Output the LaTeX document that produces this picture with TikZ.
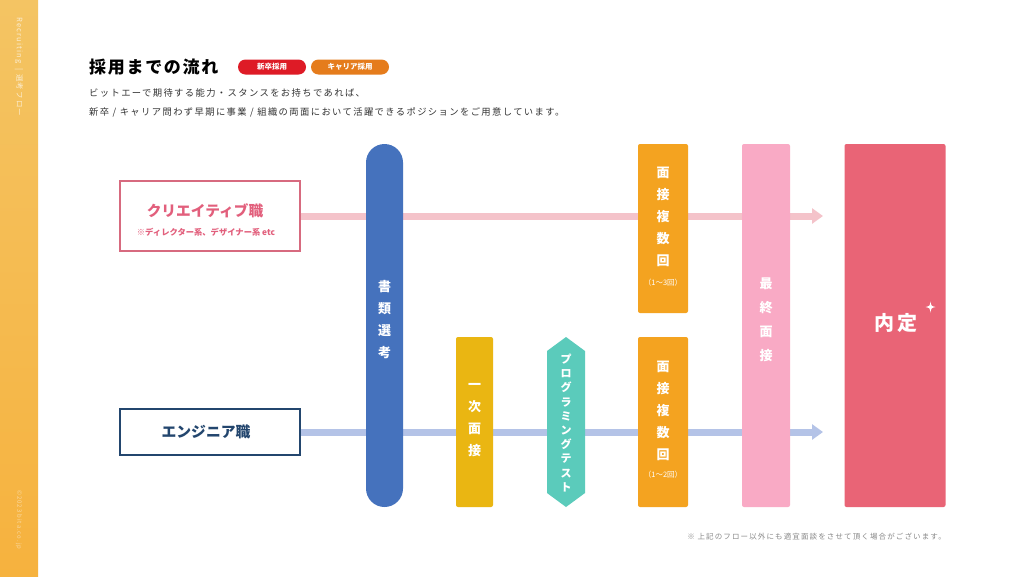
\documentclass[tikz,border=0pt]{standalone}
\usepackage{fontspec}
\setmainfont{Noto Sans CJK JP}
\newfontfamily\jp{Noto Sans CJK JP}
\newfontfamily\jpls{Noto Sans CJK JP}[LetterSpace=15]
\newfontfamily\jplt{Noto Sans CJK JP}[LetterSpace=10]
\newfontfamily\jpside{Noto Sans CJK JP}[LetterSpace=16]
\usetikzlibrary{arrows.meta,shapes.geometric}
\definecolor{sideTop}{HTML}{F4C463}
\definecolor{sideBot}{HTML}{F6B23E}
\definecolor{badgeRed}{HTML}{DE1B26}
\definecolor{badgeOrange}{HTML}{E57C1C}
\definecolor{bodyGray}{HTML}{333333}
\definecolor{creaBorder}{HTML}{D76A7F}
\definecolor{creaText}{HTML}{E25F7C}
\definecolor{engNavy}{HTML}{23466E}
\definecolor{pinkLine}{HTML}{F4C3CA}
\definecolor{blueLine}{HTML}{B4C3E7}
\definecolor{screenBlue}{HTML}{4572BD}
\definecolor{firstYellow}{HTML}{EAB612}
\definecolor{testTeal}{HTML}{5BCBBB}
\definecolor{ivOrange}{HTML}{F4A320}
\definecolor{finalPink}{HTML}{F9AAC5}
\definecolor{offerRed}{HTML}{E96476}
\definecolor{noteGray}{HTML}{8A8A8A}
\tikzset{
  bar/.style={inner sep=0pt, rounded corners=2pt},
  vtext/.style={text=white, align=center, inner sep=0pt, font=\jp\bfseries\fontsize{13}{22}\selectfont},
  badge/.style={rounded corners=7.5pt, inner sep=0pt, minimum height=15pt, text=white, font=\jp\bfseries\fontsize{7.5}{8}\selectfont},
  rolebox/.style={draw, line width=1.4pt, fill=white, inner sep=0pt, minimum width=180pt},
  flow/.style={line width=7pt, -{Triangle[width=15pt,length=11pt]}}
}
\begin{document}
\begin{tikzpicture}[x=1pt,y=-1pt]
\useasboundingbox (0,0) rectangle (1024,576);
\fill[white] (0,0) rectangle (1024,576);
% sidebar
\shade[top color=sideTop, bottom color=sideBot] (0,0) rectangle (38,576);
\node[rotate=-90, anchor=west, inner sep=0pt, text=white, opacity=0.7, font=\jpside\fontsize{7.5}{8}\selectfont] (sidetop) at (19,17) {Recruiting \,|\, 選考フロー};
% NOTE: the bottom sidebar text is illegible in the reference; this string is a placeholder guess
\node[rotate=-90, anchor=west, inner sep=0pt, text=white, opacity=0.5, font=\jpside\fontsize{6}{7}\selectfont] (sidebot) at (19,490) {©2023 bita.co.jp};
% header
\node[anchor=west, inner sep=0pt, font=\jplt\bfseries\fontsize{17}{19}\selectfont] (title) at (89,67) {採用までの流れ};
\node[badge, fill=badgeRed, minimum width=68pt] (b1) at (272,67) {新卒採用};
\node[badge, fill=badgeOrange, minimum width=78pt] (b2) at (350,67) {キャリア採用};
\node[anchor=west, inner sep=0pt, text=bodyGray, font=\jpls\fontsize{9.3}{11}\selectfont] (l1) at (89,93) {ビットエーで期待する能力・スタンスをお持ちであれば、};
\node[anchor=west, inner sep=0pt, text=bodyGray, font=\jpls\fontsize{9.3}{11}\selectfont] (l2) at (89,112) {新卒 / キャリア問わず早期に事業 / 組織の両面において活躍できるポジションをご用意しています。};
% end coordinates of the flows
\coordinate (pinkend) at (823,216);
\coordinate (blueend) at (823,432);
% role boxes
\node[rolebox, draw=creaBorder, minimum height=70pt] (crea) at (210,216) {};
\node[inner sep=0pt, text=creaText, font=\jp\bfseries\fontsize{14.7}{16}\selectfont] (creat) at (205,211) {クリエイティブ職};
\node[inner sep=0pt, text=creaText, font=\jp\bfseries\fontsize{8.3}{9}\selectfont] (creas) at (206,232) {※ディレクター系、デザイナー系 etc};
\node[rolebox, draw=engNavy, minimum height=46pt] (eng) at (210,432) {};
\node[inner sep=0pt, text=engNavy, font=\jp\bfseries\fontsize{14.8}{16}\selectfont] (engt) at (206,432) {エンジニア職};
% flow lines
\draw[flow, draw=pinkLine, color=pinkLine] (crea.east) -- (pinkend);
\draw[flow, draw=blueLine, color=blueLine] (eng.east) -- (blueend);
% screening
\node[fill=screenBlue, inner sep=0pt, rounded corners=18.5pt, minimum width=37pt, minimum height=363pt] (screen) at (384.5,325.5) {};
\node[vtext] (screent) at (384.5,320) {書\\類\\選\\考};
% first interview
\node[bar, fill=firstYellow, minimum width=37pt, minimum height=170pt] (first) at (474.5,422) {};
\node[vtext] (firstt) at (474.5,420) {一\\次\\面\\接};
% programming test hexagon
\fill[testTeal] (566,337) -- (585,351) -- (585,493) -- (566,507) -- (547,493) -- (547,351) -- cycle;
\node[text=white, align=center, inner sep=0pt, font=\jp\bfseries\fontsize{11}{14.2}\selectfont] (prog) at (566,423) {プ\\ロ\\グ\\ラ\\ミ\\ン\\グ\\テ\\ス\\ト};
% multiple interviews
\node[bar, fill=ivOrange, minimum width=50pt, minimum height=169pt] (iv1) at (663,228.5) {};
\node[vtext] (iv1t) at (663,217) {面\\接\\複\\数\\回};
\node[inner sep=0pt, text=white, font=\jp\fontsize{7.5}{9}\selectfont] (iv1n) at (663,283) {（1〜3回）};
\node[bar, fill=ivOrange, minimum width=50pt, minimum height=170pt] (iv2) at (663,422) {};
\node[vtext] (iv2t) at (663,411) {面\\接\\複\\数\\回};
\node[inner sep=0pt, text=white, font=\jp\fontsize{7.5}{9}\selectfont] (iv2n) at (663,475) {（1〜2回）};
% final interview
\node[bar, fill=finalPink, minimum width=48pt, minimum height=363pt] (final) at (766,325.5) {};
\node[vtext, font=\jp\bfseries\fontsize{13}{24}\selectfont] (finalt) at (766,320) {最\\終\\面\\接};
% offer
\node[bar, fill=offerRed, minimum width=101pt, minimum height=363pt] (offer) at (895,325.5) {};
\node[inner sep=0pt, text=white, font=\jpls\bfseries\fontsize{20}{22}\selectfont] (offert) at (896,323) {内定};
\fill[white] (930.5,301.5) .. controls (931.2,306) .. (935.5,307) .. controls (931.2,308) .. (930.5,312.5) .. controls (929.8,308) .. (925.5,307) .. controls (929.8,306) .. (930.5,301.5) -- cycle;
% note
\node[anchor=east, inner sep=0pt, text=noteGray, font=\jpls\fontsize{7.5}{9}\selectfont] (note) at (946,537) {※ 上記のフロー以外にも適宜面談をさせて頂く場合がございます。};
\end{tikzpicture}
\end{document}
